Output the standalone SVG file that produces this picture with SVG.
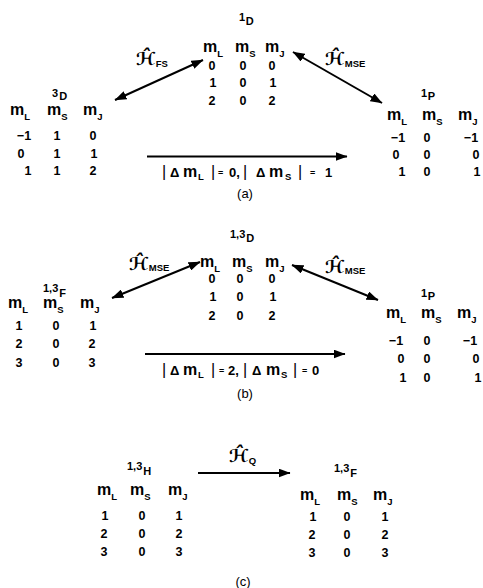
<svg xmlns="http://www.w3.org/2000/svg" width="483" height="588" viewBox="0 0 483 588">
<style>
.t{font-family:"Liberation Sans","DejaVu Sans",sans-serif;fill:#000;font-weight:bold}
.hd{font-size:16px}
.sb{font-size:9.5px}
.v{font-size:12.5px;text-anchor:middle}
.lb{font-size:11px}
.ham{font-family:"DejaVu Sans",sans-serif;font-style:italic;font-weight:bold;font-size:18px;fill:#000}
.hs{font-family:"Liberation Sans",sans-serif;font-style:normal;font-weight:bold;font-size:9.5px;fill:#000}
.bar{font-size:16px;font-weight:normal}
.dl{font-size:13px}
.eq{font-size:9px}
.cap{font-family:"Liberation Sans",sans-serif;font-size:13px;text-anchor:middle;fill:#000}
.conn line{stroke:#000;stroke-width:2}
</style>
<defs>
<marker id="ah" viewBox="0 0 12 9" refX="11.5" refY="4.5" markerWidth="12" markerHeight="9" markerUnits="userSpaceOnUse" orient="auto-start-reverse">
<path d="M0,0 L12,4.5 L0,9 z" fill="#000"/>
</marker>
</defs>

<!-- (a) -->
<g id="a_3D">
<text class="t lb" x="52" y="97">3<tspan dx="1" dy="3">D</tspan></text>
<text class="t hd" x="10" y="115">m<tspan class="sb" dy="4.5">L</tspan></text>
<text class="t hd" x="47" y="115">m<tspan class="sb" dy="4.5">S</tspan></text>
<text class="t hd" x="83" y="115">m<tspan class="sb" dy="4.5">J</tspan></text>
<text class="t v" x="24" y="140">−1</text><text class="t v" x="57" y="140">1</text><text class="t v" x="93" y="140">0</text>
<text class="t v" x="21" y="157.5">0</text><text class="t v" x="57" y="157.5">1</text><text class="t v" x="94" y="157.5">1</text>
<text class="t v" x="28" y="175">1</text><text class="t v" x="57" y="175">1</text><text class="t v" x="93" y="175">2</text>
</g>

<g id="a_1D">
<text class="t lb" x="239" y="21">1<tspan dx="0.5" dy="4">D</tspan></text>
<text class="t hd" x="203" y="52">m<tspan class="sb" dy="4.5">L</tspan></text>
<text class="t hd" x="235" y="52">m<tspan class="sb" dy="4.5">S</tspan></text>
<text class="t hd" x="265" y="52">m<tspan class="sb" dy="4.5">J</tspan></text>
<text class="t v" x="212" y="70">0</text><text class="t v" x="243" y="70">0</text><text class="t v" x="272" y="70">0</text>
<text class="t v" x="213" y="87">1</text><text class="t v" x="243" y="87">0</text><text class="t v" x="273" y="87">1</text>
<text class="t v" x="212" y="104.5">2</text><text class="t v" x="243" y="104.5">0</text><text class="t v" x="272" y="104.5">2</text>
</g>

<g id="a_1P">
<text class="t lb" x="421" y="97">1<tspan dx="0.5" dy="3">P</tspan></text>
<text class="t hd" x="387" y="120">m<tspan class="sb" dy="4.5">L</tspan></text>
<text class="t hd" x="422" y="120">m<tspan class="sb" dy="4.5">S</tspan></text>
<text class="t hd" x="458" y="120">m<tspan class="sb" dy="4.5">J</tspan></text>
<text class="t v" x="398" y="142">−1</text><text class="t v" x="427" y="142">0</text><text class="t v" x="471" y="142">−1</text>
<text class="t v" x="396" y="158.5">0</text><text class="t v" x="427" y="158.5">0</text><text class="t v" x="476" y="158.5">0</text>
<text class="t v" x="402" y="175.5">1</text><text class="t v" x="427" y="175.5">0</text><text class="t v" x="477" y="175.5">1</text>
</g>

<g id="a_labels">
<text class="ham" x="136" y="65">ℋ&#x302;<tspan class="hs" dx="0.5" dy="2">FS</tspan></text>
<text class="ham" x="325" y="65">ℋ&#x302;<tspan class="hs" dx="0.5" dy="2">MSE</tspan></text>
<text class="t dl" y="177"><tspan class="bar" x="162">|</tspan><tspan x="170">Δ</tspan><tspan class="hd" x="183">m</tspan><tspan class="sb" x="198" y="180">L</tspan><tspan class="bar" x="211" y="177">|</tspan><tspan class="eq" x="218" y="176">=</tspan><tspan x="229" y="177">0,</tspan><tspan class="bar" x="243">|</tspan><tspan x="256">Δ</tspan><tspan class="hd" x="269">m</tspan><tspan class="sb" x="285" y="180">S</tspan><tspan class="bar" x="298" y="177">|</tspan><tspan class="eq" x="310" y="176">=</tspan><tspan x="325" y="177">1</tspan></text>
<text class="cap" x="245" y="198">(a)</text>
</g>

<!-- (b) -->
<g id="b_13F">
<text class="t lb" x="43" y="292">1,3<tspan dx="1" dy="5">F</tspan></text>
<text class="t hd" x="8" y="308">m<tspan class="sb" dy="4.5">L</tspan></text>
<text class="t hd" x="43" y="308">m<tspan class="sb" dy="4.5">S</tspan></text>
<text class="t hd" x="80" y="308">m<tspan class="sb" dy="4.5">J</tspan></text>
<text class="t v" x="19" y="330">1</text><text class="t v" x="56" y="330">0</text><text class="t v" x="93" y="330">1</text>
<text class="t v" x="19" y="348">2</text><text class="t v" x="56" y="348">0</text><text class="t v" x="92" y="348">2</text>
<text class="t v" x="19" y="366.5">3</text><text class="t v" x="56" y="366.5">0</text><text class="t v" x="92" y="366.5">3</text>
</g>

<g id="b_13D">
<text class="t lb" x="230" y="238">1,3<tspan dx="1" dy="4">D</tspan></text>
<text class="t hd" x="200" y="267">m<tspan class="sb" dy="4.5">L</tspan></text>
<text class="t hd" x="232" y="267">m<tspan class="sb" dy="4.5">S</tspan></text>
<text class="t hd" x="265" y="267">m<tspan class="sb" dy="4.5">J</tspan></text>
<text class="t v" x="212" y="283">0</text><text class="t v" x="240" y="283">0</text><text class="t v" x="272" y="283">0</text>
<text class="t v" x="213" y="301">1</text><text class="t v" x="240" y="301">0</text><text class="t v" x="273" y="301">1</text>
<text class="t v" x="212" y="319.5">2</text><text class="t v" x="240" y="319.5">0</text><text class="t v" x="272" y="319.5">2</text>
</g>

<g id="b_1P">
<text class="t lb" x="421" y="297">1<tspan dx="0.5" dy="3">P</tspan></text>
<text class="t hd" x="386" y="318">m<tspan class="sb" dy="4.5">L</tspan></text>
<text class="t hd" x="421" y="318">m<tspan class="sb" dy="4.5">S</tspan></text>
<text class="t hd" x="457" y="318">m<tspan class="sb" dy="4.5">J</tspan></text>
<text class="t v" x="396" y="345">−1</text><text class="t v" x="427" y="345">0</text><text class="t v" x="470" y="345">−1</text>
<text class="t v" x="401" y="363">0</text><text class="t v" x="427" y="363">0</text><text class="t v" x="476" y="363">0</text>
<text class="t v" x="403" y="381.5">1</text><text class="t v" x="427" y="381.5">0</text><text class="t v" x="478" y="381.5">1</text>
</g>

<g id="b_labels">
<text class="ham" x="129" y="270">ℋ&#x302;<tspan class="hs" dx="0.5" dy="1">MSE</tspan></text>
<text class="ham" x="325" y="273">ℋ&#x302;<tspan class="hs" dx="0.5" dy="1">MSE</tspan></text>
<text class="t dl" y="375"><tspan class="bar" x="162">|</tspan><tspan x="170">Δ</tspan><tspan class="hd" x="183">m</tspan><tspan class="sb" x="198" y="378">L</tspan><tspan class="bar" x="211" y="375">|</tspan><tspan class="eq" x="219" y="374">=</tspan><tspan x="228" y="375">2,</tspan><tspan class="bar" x="243">|</tspan><tspan x="252">Δ</tspan><tspan class="hd" x="266">m</tspan><tspan class="sb" x="281" y="378">S</tspan><tspan class="bar" x="293" y="375">|</tspan><tspan class="eq" x="302" y="374">=</tspan><tspan x="312" y="375">0</tspan></text>
<text class="cap" x="245" y="398">(b)</text>
</g>

<!-- (c) -->
<g id="c_13H">
<text class="t lb" x="127" y="470">1,3<tspan dx="1" dy="5">H</tspan></text>
<text class="t hd" x="97" y="495">m<tspan class="sb" dy="4.5">L</tspan></text>
<text class="t hd" x="130" y="495">m<tspan class="sb" dy="4.5">S</tspan></text>
<text class="t hd" x="168" y="495">m<tspan class="sb" dy="4.5">J</tspan></text>
<text class="t v" x="105" y="520">1</text><text class="t v" x="142" y="520">0</text><text class="t v" x="179" y="520">1</text>
<text class="t v" x="104" y="538">2</text><text class="t v" x="142" y="538">0</text><text class="t v" x="179" y="538">2</text>
<text class="t v" x="104" y="556">3</text><text class="t v" x="142" y="556">0</text><text class="t v" x="179" y="556">3</text>
</g>

<g id="c_13F">
<text class="t lb" x="334" y="472">1,3<tspan dx="1" dy="5">F</tspan></text>
<text class="t hd" x="300" y="500">m<tspan class="sb" dy="4.5">L</tspan></text>
<text class="t hd" x="337" y="500">m<tspan class="sb" dy="4.5">S</tspan></text>
<text class="t hd" x="373" y="500">m<tspan class="sb" dy="4.5">J</tspan></text>
<text class="t v" x="313" y="521">1</text><text class="t v" x="347" y="521">0</text><text class="t v" x="385" y="521">1</text>
<text class="t v" x="312" y="539">2</text><text class="t v" x="347" y="539">0</text><text class="t v" x="385" y="539">2</text>
<text class="t v" x="312" y="557">3</text><text class="t v" x="347" y="557">0</text><text class="t v" x="385" y="557">3</text>
</g>

<g id="c_labels">
<text class="ham" x="229" y="462">ℋ&#x302;<tspan class="hs" dx="0.5" dy="2">Q</tspan></text>
<text class="cap" x="243" y="586">(c)</text>
</g>

<g class="conn" id="connectors">
<line x1="115" y1="100" x2="203" y2="60" marker-start="url(#ah)" marker-end="url(#ah)"/>
<line x1="293" y1="52" x2="382" y2="103" marker-start="url(#ah)" marker-end="url(#ah)"/>
<line x1="147" y1="156.5" x2="347" y2="156.5" marker-end="url(#ah)"/>
<line x1="112" y1="298" x2="200" y2="262" marker-start="url(#ah)" marker-end="url(#ah)"/>
<line x1="292" y1="265" x2="378" y2="300" marker-start="url(#ah)" marker-end="url(#ah)"/>
<line x1="145" y1="354" x2="345" y2="354" marker-end="url(#ah)"/>
<line x1="198" y1="473" x2="290" y2="473" marker-end="url(#ah)"/>
</g>
</svg>
